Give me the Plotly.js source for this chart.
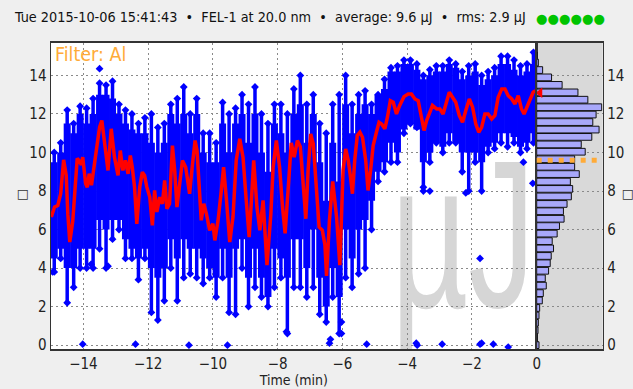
<!DOCTYPE html>
<html>
<head>
<meta charset="utf-8">
<script src="https://cdn.plot.ly/plotly-3.0.1.min.js"></script>
<style>
html,body{margin:0;padding:0;background:#efefef;}
#chart{width:633px;height:389px;}
</style>
</head>
<body>
<div id="chart"></div>
<script>
// ---------- DATA ----------
const titleText = "Tue 2015-10-06 15:41:43  \u2022  FEL-1 at 20.0 nm  \u2022  average: 9.6 \u00b5J  \u2022  rms: 2.9 \u00b5J";
const filterText = "Filter: Al";
const unitText = "\u00b5J";
const axisUnit = "\u25a1";
const averageValue = 9.6;
const currentAvg = 13.1;
const xTicks = [-14, -12, -10, -8, -6, -4, -2, 0];
const yTicks = [0, 2, 4, 6, 8, 10, 12, 14];

// running average (red line)
const redT = [-14.99,-14.89,-14.79,-14.70,-14.61,-14.53,-14.48,-14.42,-14.33,-14.24,-14.19,-14.12,-14.06,-14.02,-13.93,-13.88,-13.82,-13.75,-13.65,-13.50,-13.43,-13.35,-13.24,-13.14,-13.04,-12.93,-12.86,-12.78,-12.70,-12.62,-12.55,-12.49,-12.42,-12.35,-12.26,-12.18,-12.11,-12.04,-11.95,-11.87,-11.80,-11.73,-11.64,-11.56,-11.49,-11.42,-11.34,-11.25,-11.18,-11.11,-11.03,-10.94,-10.84,-10.77,-10.72,-10.64,-10.55,-10.49,-10.43,-10.36,-10.28,-10.20,-10.10,-10.00,-9.94,-9.84,-9.74,-9.67,-9.58,-9.48,-9.38,-9.28,-9.17,-9.07,-8.97,-8.88,-8.81,-8.74,-8.64,-8.55,-8.45,-8.37,-8.33,-8.21,-8.14,-8.04,-7.94,-7.85,-7.77,-7.68,-7.58,-7.49,-7.39,-7.30,-7.21,-7.13,-7.06,-6.98,-6.90,-6.82,-6.72,-6.62,-6.54,-6.49,-6.40,-6.30,-6.18,-6.08,-5.98,-5.90,-5.82,-5.75,-5.69,-5.62,-5.54,-5.46,-5.38,-5.28,-5.21,-5.13,-5.05,-4.95,-4.87,-4.79,-4.69,-4.61,-4.52,-4.43,-4.33,-4.23,-4.10,-3.97,-3.87,-3.76,-3.66,-3.56,-3.48,-3.40,-3.32,-3.22,-3.09,-2.99,-2.89,-2.80,-2.70,-2.60,-2.50,-2.39,-2.29,-2.19,-2.08,-1.98,-1.88,-1.79,-1.70,-1.60,-1.50,-1.39,-1.29,-1.19,-1.08,-0.98,-0.88,-0.77,-0.67,-0.57,-0.47,-0.39,-0.31,-0.21,-0.11,-0.04];
const redV = [6.65,7.17,7.25,7.87,9.62,8.81,6.80,5.35,6.40,8.90,9.70,9.55,9.35,9.76,8.38,8.20,8.90,8.30,9.59,11.31,11.66,10.45,9.07,11.23,9.76,8.81,10.10,9.07,9.59,8.89,9.84,9.24,8.20,6.30,8.20,8.98,8.81,8.20,7.69,6.22,8.03,6.91,7.69,7.34,8.55,7.08,7.34,10.36,9.07,7.17,8.20,9.59,9.24,8.38,7.86,9.24,10.62,10.10,8.55,6.48,7.34,6.82,5.96,6.30,5.44,6.48,8.03,9.24,7.51,5.35,6.65,9.59,10.71,9.76,7.51,5.61,7.51,9.59,7.17,5.96,7.51,5.61,4.15,6.82,9.24,10.62,9.24,7.17,5.80,8.00,10.50,9.76,10.62,10.30,8.20,6.56,9.07,10.97,10.45,8.20,6.13,5.96,5.20,3.60,6.50,8.50,6.65,4.15,9.07,10.19,9.59,8.72,7.86,9.59,10.88,11.05,10.79,9.59,8.03,9.07,10.36,11.05,11.57,11.48,11.23,11.83,12.69,12.61,12.00,12.44,12.90,13.04,13.04,12.78,12.69,11.83,11.14,11.66,12.00,12.44,12.26,12.26,12.00,12.52,13.13,12.87,12.61,11.92,11.57,12.18,12.78,12.35,11.48,11.05,11.31,12.00,12.00,11.74,11.92,12.87,13.30,13.30,12.95,12.78,12.52,12.95,12.26,12.00,12.35,12.69,13.13,13.20];

// shot cloud: per time column, full extent (tail) and dense core
const colT = [-14.9,-14.7,-14.5,-14.3,-14.1,-13.9,-13.7,-13.5,-13.3,-13.1,-12.9,-12.7,-12.5,-12.3,-12.1,-11.9,-11.7,-11.5,-11.3,-11.1,-10.9,-10.7,-10.5,-10.3,-10.1,-9.9,-9.7,-9.5,-9.3,-9.1,-8.9,-8.7,-8.5,-8.3,-8.1,-7.9,-7.7,-7.5,-7.3,-7.1,-6.9,-6.7,-6.5,-6.3,-6.1,-5.9,-5.7,-5.5,-5.3,-5.1,-4.9,-4.7,-4.5,-4.3,-4.1,-3.9,-3.7,-3.5,-3.3,-3.1,-2.9,-2.7,-2.5,-2.3,-2.1,-1.9,-1.7,-1.5,-1.3,-1.1,-0.9,-0.7,-0.5,-0.3,-0.1];
const tailLo = [3.8,4.5,2.2,3.0,4.0,4.0,4.0,5.0,4.0,5.5,6.0,4.5,4.5,3.4,4.5,1.7,1.3,2.3,4.0,2.3,3.5,3.7,3.5,3.2,3.5,2.5,3.5,1.7,1.6,4.0,2.0,3.0,2.5,2.0,3.0,3.5,0.6,3.0,3.0,2.5,3.0,1.6,1.2,2.5,0.6,3.5,3.0,3.7,4.0,6.0,8.5,9.0,9.5,9.5,11.0,11.5,11.3,8.0,9.5,10.5,10.0,10.5,10.5,9.0,8.0,9.5,8.0,10.0,10.2,10.5,10.3,10.5,10.0,10.2,10.5];
const tailHi = [10.0,10.5,12.2,11.5,12.4,12.3,12.8,13.6,13.5,13.7,12.5,12.2,12.0,11.5,11.8,12.0,11.3,11.5,12.5,12.8,13.4,12.0,12.8,11.0,11.0,10.5,12.6,12.0,12.3,13.0,12.5,13.4,12.0,11.5,12.5,12.5,12.0,13.3,14.0,12.5,13.0,11.5,11.0,12.5,13.0,14.0,12.5,13.0,13.2,12.5,13.0,13.8,14.4,14.5,14.8,14.8,14.6,14.0,14.3,14.5,14.5,14.8,14.6,14.2,14.5,14.6,14.0,14.2,14.4,15.0,15.0,14.8,14.5,14.6,15.2];
const coreLo = [4.5,5.0,4.0,4.0,5.0,5.0,5.0,6.5,6.0,6.5,6.5,5.5,5.0,4.5,5.0,4.0,3.5,4.0,5.5,4.5,5.5,5.0,5.0,4.5,4.0,3.5,5.0,3.5,5.0,5.5,3.5,5.0,3.5,2.5,5.0,4.5,3.5,5.5,5.5,4.0,6.0,3.5,2.0,4.0,2.5,6.0,4.5,6.0,6.5,7.5,9.0,9.5,10.5,10.0,11.2,11.5,11.2,9.5,10.0,10.5,10.3,11.0,10.5,10.0,10.0,10.0,9.5,10.3,10.5,11.0,11.0,10.8,10.3,10.5,11.0];
const coreHi = [9.5,10.0,11.5,11.0,12.0,11.5,12.0,13.0,13.0,12.8,12.0,11.5,11.2,11.0,11.0,10.5,10.0,10.5,12.0,11.5,12.0,11.0,12.0,10.0,9.5,9.5,11.5,10.0,11.5,12.0,10.5,12.0,10.0,9.0,11.5,11.0,10.0,12.0,12.5,10.5,12.0,9.5,7.5,10.5,8.5,12.5,11.0,12.0,12.5,12.0,13.0,13.3,14.2,14.2,14.6,14.6,14.3,13.8,14.0,14.2,14.2,14.6,14.4,13.8,14.0,14.2,13.5,13.8,14.0,14.6,14.6,14.3,14.0,14.2,14.6];

// isolated shots
const outT = [-14.02,-12.39,-10.74,-9.55,-6.40,-6.37,-6.03,-6.03,-5.25,-3.72,-3.69,-2.92,-1.75,-1.70,-1.34,-0.88,-7.73,-13.50,-14.95,-0.12,-1.75,-3.50,-3.30,-13.24,-13.76,-2.19,-0.41];
const outV = [0.05,0.05,0.0,0.0,0.1,0.3,0.6,1.2,0.05,0.1,0.0,0.05,0.05,0.1,0.05,-0.1,0.7,14.35,3.8,8.4,4.5,8.2,8.0,4.1,4.2,7.9,9.5];

// histogram of shot energies
const binCenters = [0.00,0.39,0.77,1.16,1.54,1.93,2.32,2.70,3.09,3.47,3.86,4.25,4.63,5.02,5.40,5.79,6.18,6.56,6.95,7.33,7.72,8.11,8.49,8.88,9.26,9.65,10.04,10.42,10.81,11.19,11.58,11.97,12.35,12.74,13.12,13.51,13.90,14.28,14.67,15.05];
const binCounts = [7,2,4,5,7,9,17,20,29,26,36,41,44,51,47,62,69,83,81,92,105,109,102,129,115,115,147,135,167,189,170,180,197,155,125,77,45,18,5,2];

// ---------- build ----------
function segs(xs, lo, hi) {
  const x = [], y = [];
  for (let i = 0; i < xs.length; i++) { x.push(xs[i], xs[i], null); y.push(lo[i], hi[i], null); }
  return {x, y};
}
const tail = segs(colT, tailLo, tailHi);
const core = segs(colT, coreLo, coreHi);

const FONT = '"DejaVu Sans Condensed", "DejaVu Sans", sans-serif';
const BLUE = '#0000ff';
const ORANGE = '#ffab38';
const yRange = [-0.2, 15.7];

const data = [
  {type:'scatter', mode:'lines', x: tail.x, y: tail.y, line:{color:BLUE, width:3.5}, connectgaps:false, hoverinfo:'skip', xaxis:'x', yaxis:'y'},
  {type:'scatter', mode:'markers', x: colT, y: tailHi, marker:{symbol:'diamond', size:6, color:BLUE}, xaxis:'x', yaxis:'y'},
  {type:'scatter', mode:'markers', x: colT, y: tailLo, marker:{symbol:'diamond', size:6, color:BLUE}, xaxis:'x', yaxis:'y'},
  {type:'scatter', mode:'lines', x: core.x, y: core.y, line:{color:BLUE, width:7}, connectgaps:false, hoverinfo:'skip', xaxis:'x', yaxis:'y'},
  {type:'scatter', mode:'markers', x: outT, y: outV, marker:{symbol:'diamond', size:6, color:BLUE}, xaxis:'x', yaxis:'y'},
  {type:'scatter', mode:'lines', x: redT, y: redV, line:{color:'#ff0000', width:3.5}, xaxis:'x', yaxis:'y'},
  {type:'bar', orientation:'h', y: binCenters, x: binCounts, marker:{color:'#a8a8fa', line:{color:'#111', width:1}}, xaxis:'x2', yaxis:'y2'},
  {type:'scatter', mode:'markers', x:[10], y:[currentAvg], marker:{symbol:'triangle-left', size:9, color:'#ff0000'}, xaxis:'x2', yaxis:'y2'}
];

const W = 633, H = 389;
const xL = 51/W, xM = 536.7/W, xR = 602.7/W;
const yB = (H-349)/H, yT = (H-42.7)/H;

const gridStyle = {showgrid:true, gridcolor:'#8a8a8a', gridwidth:1, griddash:'2px,3px', zeroline:false};
const lineStyle = {showline:true, linecolor:'#333', linewidth:1.5, mirror:true};
const tickFont = {family:FONT, size:15, color:'#222'};

const layout = {
  width:W, height:H,
  margin:{l:0, r:0, t:0, b:0},
  paper_bgcolor:'#efefef', plot_bgcolor:'#ffffff',
  showlegend:false, bargap:0.08,
  font:{family:FONT},
  xaxis: Object.assign({domain:[xL, xM], range:[-15, 0], tickvals:xTicks, ticks:'', tickfont:tickFont, anchor:'y',
    title:{text:'Time (min)', font:{family:FONT, size:14, color:'#222'}, standoff:2}}, gridStyle, lineStyle),
  yaxis: Object.assign({domain:[yB, yT], range:yRange, tickvals:yTicks, ticks:'', tickfont:tickFont, anchor:'x'}, gridStyle, lineStyle),
  xaxis2: Object.assign({domain:[xM, xR], range:[0, 200], showgrid:false, showticklabels:false, anchor:'y2', zeroline:false}, lineStyle),
  yaxis2: Object.assign({domain:[yB, yT], range:yRange, tickvals:yTicks, ticks:'', tickfont:tickFont, anchor:'x2', side:'right'}, gridStyle, lineStyle),
  shapes: [
    {type:'rect', xref:'x2 domain', yref:'y2 domain', x0:0, x1:1, y0:0, y1:1, fillcolor:'#d9d9d9', line:{width:0}, layer:'below'},
    {type:'line', xref:'x2 domain', yref:'y2', x0:0, x1:1, y0:averageValue, y1:averageValue, line:{color:ORANGE, width:5, dash:'5px,6px'}, layer:'above'}
  ],
  annotations: [
    {xref:'paper', yref:'paper', x:12/W, y:(H-17)/H, xanchor:'left', yanchor:'middle', showarrow:false, text:titleText, font:{family:FONT, size:14.3, color:'#111'}},
    {xref:'paper', yref:'paper', x:534/W, y:(H-18)/H, xanchor:'left', yanchor:'middle', showarrow:false, text:'\u25cf\u25cf\u25cf\u25cf\u25cf\u25cf', font:{family:'DejaVu Sans', size:13.2, color:'#00c400'}},
    {xref:'paper', yref:'paper', x:53/W, y:(H-41)/H, xanchor:'left', yanchor:'top', showarrow:false, text:filterText, font:{family:FONT, size:19.5, color:ORANGE}},
    {xref:'paper', yref:'paper', x:22/W, y:(H-195)/H, xanchor:'center', yanchor:'middle', showarrow:false, textangle:-90, text:axisUnit, font:{family:'DejaVu Sans', size:13, color:'#333'}},
    {xref:'paper', yref:'paper', x:627/W, y:(H-195)/H, xanchor:'center', yanchor:'middle', showarrow:false, textangle:-90, text:axisUnit, font:{family:'DejaVu Sans', size:13, color:'#333'}}
  ]
};

const gd = document.getElementById('chart');
Plotly.newPlot(gd, data, layout, {staticPlot:true, displayModeBar:false}).then(function(){
  const fl = gd._fullLayout, xa = fl.xaxis, ya = fl.yaxis;
  const ns = 'http://www.w3.org/2000/svg';
  const svg = gd.querySelector('svg.main-svg');
  const below = svg.querySelector('.layer-below');
  const defs = svg.querySelector('defs');
  const cp = document.createElementNS(ns, 'clipPath');
  cp.setAttribute('id', 'wmclip');
  const r = document.createElementNS(ns, 'rect');
  r.setAttribute('x', xa._offset); r.setAttribute('y', ya._offset);
  r.setAttribute('width', xa._length); r.setAttribute('height', ya._length);
  cp.appendChild(r); defs.appendChild(cp);
  const g = document.createElementNS(ns, 'g');
  g.setAttribute('clip-path', 'url(#wmclip)');
  const t = document.createElementNS(ns, 'text');
  const px = xa._offset + xa.l2p(-0.05);
  const py = ya._offset + ya.l2p(1.97);
  t.setAttribute('transform', 'translate(' + px + ',' + py + ') scale(0.64,1)');
  t.setAttribute('text-anchor', 'end');
  t.setAttribute('font-family', 'Liberation Sans');
  t.setAttribute('font-size', '209');
  t.setAttribute('fill', '#d6d6d6');
  t.textContent = unitText;
  g.appendChild(t);
  below.appendChild(g);
});
</script>
</body>
</html>
